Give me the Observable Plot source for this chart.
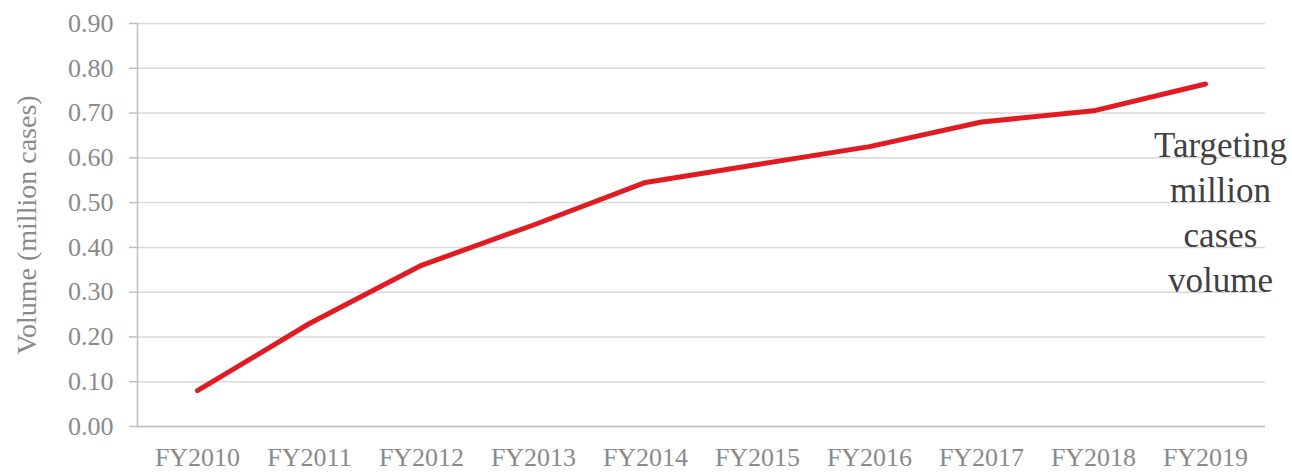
<!DOCTYPE html>
<html>
<head>
<meta charset="utf-8">
<script src="https://cdn.jsdelivr.net/npm/d3@7"></script>
<script src="https://cdn.jsdelivr.net/npm/@observablehq/plot@0.6"></script>
<style>
  html, body { margin: 0; padding: 0; background: #fff; }
</style>
</head>
<body>
<div id="chart"></div>
<script>
const years = ["FY2010","FY2011","FY2012","FY2013","FY2014","FY2015","FY2016","FY2017","FY2018","FY2019"];
const volumes = [0.08, 0.23, 0.36, 0.45, 0.545, 0.585, 0.625, 0.68, 0.705, 0.765];
const yTicks = [0, 0.1, 0.2, 0.3, 0.4, 0.5, 0.6, 0.7, 0.8, 0.9];
const yLabel = "Volume (million cases)";
const note = "Targeting\nmillion\ncases\nvolume";

const data = years.map((y, i) => ({year: y, value: volumes[i]}));

const chart = Plot.plot({
  width: 1292,
  height: 474,
  marginLeft: 137,
  marginRight: 27,
  marginTop: 23,
  marginBottom: 48,
  style: {fontFamily: "'Liberation Serif', serif", background: "#fff", overflow: "visible"},
  x: {type: "point", domain: years, padding: 0.5, label: null},
  y: {domain: [0, 0.9], ticks: yTicks, label: yLabel},
  marks: [
    Plot.gridY(yTicks, {stroke: "#d9d9d9", strokeOpacity: 1, strokeWidth: 1.5}),
    Plot.frame({anchor: "left", stroke: "#bfbfbf", strokeWidth: 1.5}),
    Plot.axisY(yTicks, {
      tickFormat: d3.format(".2f"), tickSize: 8, tickPadding: 16,
      stroke: "#bfbfbf", strokeWidth: 1.5, fill: "#8a8a8a", fontSize: 26,
      label: null
    }),
    Plot.axisY([], {
      fill: "#8a8a8a", fontSize: 28, tickSize: 0,
      label: yLabel, labelAnchor: "center", labelArrow: "none", labelOffset: 121
    }),
    Plot.axisX({tickSize: 0, tickPadding: 21, fill: "#8a8a8a", fontSize: 26, label: null}),
    Plot.ruleY([0], {stroke: "#bfbfbf", strokeWidth: 1.5}),
    Plot.line(data, {x: "year", y: "value", stroke: "#e11b22", strokeWidth: 5, strokeLinejoin: "round", strokeLinecap: "round"}),
    Plot.text([note], {
      text: d => d, frameAnchor: "right", textAnchor: "middle", lineAnchor: "middle",
      dx: -45, dy: -15, fontSize: 35, lineHeight: 1.29, fill: "#404040", clip: false
    })
  ]
});

document.getElementById("chart").appendChild(chart);
</script>
</body>
</html>
